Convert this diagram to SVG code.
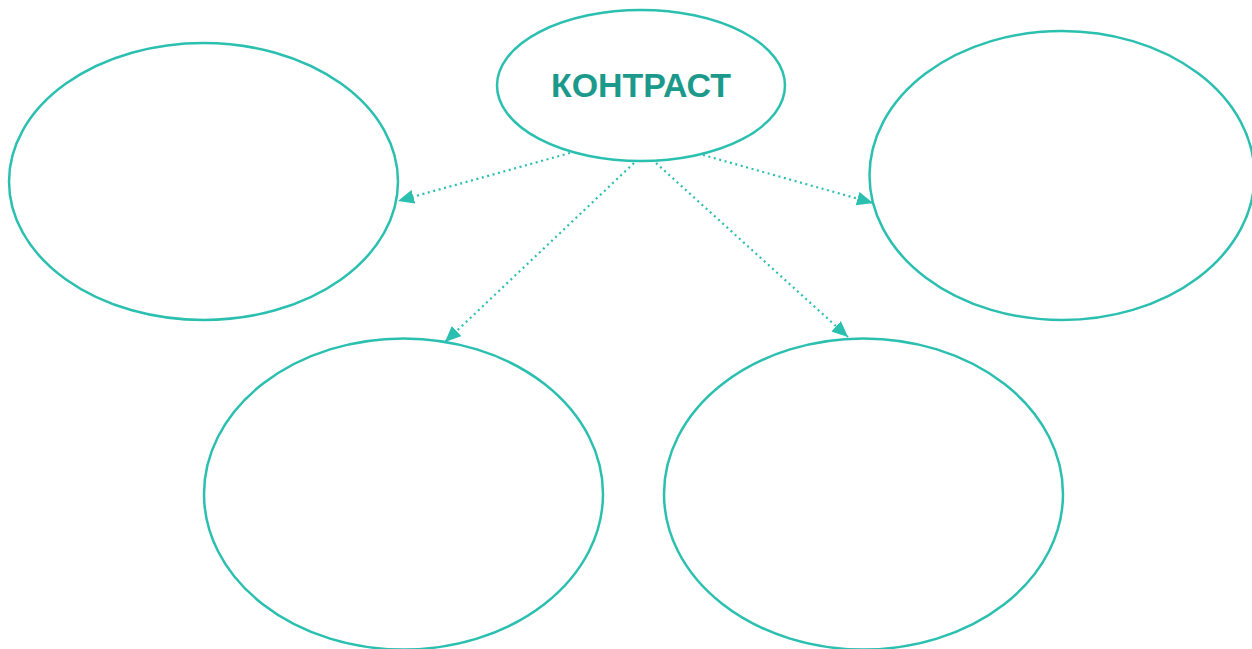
<svg xmlns="http://www.w3.org/2000/svg" width="1252" height="649" viewBox="0 0 1252 649">
<style>
.n{fill:#fff;stroke:#2bbfb0;stroke-width:2.5}
.c{fill:none;stroke:#2bbfb0;stroke-width:2.2;stroke-dasharray:2 3.6}
.t{font-family:"Liberation Sans",Arial,sans-serif;font-weight:bold;font-size:33px;fill:#1b9a8b}
</style>
<defs>
<marker id="ah" markerUnits="userSpaceOnUse" markerWidth="18" markerHeight="14" refX="16" refY="7" orient="auto">
<path d="M0,0 L16,7 L0,14 Z" fill="#2bbfb0"/>
</marker>
</defs>
<rect width="1252" height="649" fill="#fff"/>
<g id="connectors">
<line class="c" x1="570" y1="153" x2="398" y2="201" marker-end="url(#ah)"/>
<line class="c" x1="634" y1="163" x2="445" y2="342" marker-end="url(#ah)"/>
<line class="c" x1="656" y1="163" x2="848" y2="337" marker-end="url(#ah)"/>
<line class="c" x1="703" y1="155" x2="873" y2="203" marker-end="url(#ah)"/>
</g>
<g id="center">
<ellipse class="n" cx="641" cy="85.5" rx="144" ry="75.5"/>
<text class="t" x="641" y="97" text-anchor="middle" textLength="180" lengthAdjust="spacingAndGlyphs">КОНТРАСТ</text>
</g>
<g id="top-left"><ellipse class="n" cx="203.5" cy="181.5" rx="194.5" ry="138.5"/></g>
<g id="top-right"><ellipse class="n" cx="1062" cy="175.5" rx="192.5" ry="144.5"/></g>
<g id="bottom-left"><ellipse class="n" cx="403.5" cy="494" rx="199.5" ry="155.5"/></g>
<g id="bottom-right"><ellipse class="n" cx="863.5" cy="494" rx="199.5" ry="155.5"/></g>
</svg>
